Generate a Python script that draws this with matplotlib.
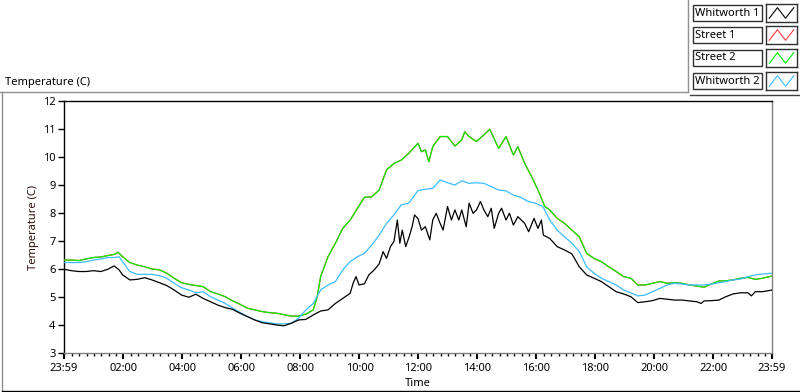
import matplotlib
matplotlib.use("Agg")
import matplotlib.pyplot as plt
from matplotlib.lines import Line2D
from matplotlib.patches import Rectangle
import numpy as np

plt.rcParams['font.family'] = ['Noto Sans', 'DejaVu Sans']

# minutes after 23:59 (start of the day record) and temperatures in C
whit1_t = [0, 15, 30, 45, 60, 75, 89, 102, 112, 119, 134, 149, 164, 179, 194, 209, 224, 239, 254, 268,
           283, 298, 313, 328, 343, 358, 373, 388, 403, 418, 433, 447, 462, 477, 492, 507, 522, 537, 552, 567,
           582, 588, 594, 600, 611, 620, 631, 641, 649, 656, 664, 671, 678, 683, 688, 695, 702, 708, 713, 720,
           727, 735, 744, 750, 757, 765, 771, 780, 788, 795, 803, 809, 818, 824, 832, 839, 847, 854, 862, 869,
           875, 884, 890, 899, 906, 914, 923, 937, 945, 956, 964, 971, 975, 988, 1003, 1018, 1033, 1048, 1063, 1078,
           1093, 1108, 1123, 1138, 1153, 1167, 1182, 1197, 1212, 1227, 1242, 1257, 1272, 1287, 1296, 1302, 1317, 1332, 1346, 1361,
           1376, 1391, 1398, 1406, 1421, 1440]
whit1_v = [5.99, 5.94, 5.91, 5.91, 5.94, 5.91, 5.99, 6.11, 5.97, 5.79, 5.61, 5.63, 5.69, 5.61, 5.51, 5.41, 5.25, 5.07, 4.99, 5.10,
           4.95, 4.83, 4.71, 4.62, 4.56, 4.42, 4.30, 4.18, 4.08, 4.04, 4.00, 3.97, 4.06, 4.18, 4.20, 4.36, 4.50, 4.54, 4.77, 4.95,
           5.13, 5.49, 5.73, 5.43, 5.47, 5.79, 5.97, 6.18, 6.62, 6.38, 6.80, 6.98, 7.75, 6.92, 7.39, 6.80, 7.15, 7.51, 7.93, 7.80,
           7.39, 7.51, 7.04, 7.75, 7.99, 7.63, 7.39, 8.23, 7.75, 8.11, 7.75, 8.11, 7.51, 8.35, 7.99, 8.11, 8.41, 8.11, 7.87, 8.17,
           7.45, 7.99, 8.17, 7.75, 7.99, 7.57, 7.87, 7.63, 7.33, 7.81, 7.45, 7.75, 7.21, 7.09, 6.80, 6.68, 6.54, 6.08, 5.79, 5.67,
           5.55, 5.37, 5.19, 5.11, 5.01, 4.80, 4.83, 4.87, 4.95, 4.92, 4.89, 4.89, 4.86, 4.83, 4.77, 4.86, 4.87, 4.89, 5.01, 5.11,
           5.15, 5.15, 5.04, 5.19, 5.19, 5.25]

street2_t = [0, 15, 30, 45, 60, 75, 89, 102, 110, 119, 134, 149, 164, 179, 194, 209, 224, 239, 254, 268,
             283, 298, 313, 328, 343, 358, 373, 388, 403, 418, 433, 447, 462, 477, 492, 507, 515, 522, 537, 552,
             567, 582, 597, 611, 626, 641, 656, 671, 686, 701, 720, 727, 735, 742, 750, 765, 780, 795, 809, 815,
             824, 839, 854, 866, 876, 884, 899, 914, 923, 937, 951, 964, 978, 988, 1003, 1018, 1033, 1048, 1063, 1078,
             1093, 1108, 1123, 1138, 1153, 1167, 1182, 1197, 1212, 1227, 1242, 1257, 1272, 1287, 1302, 1317, 1332, 1346, 1361, 1376,
             1391, 1406, 1421, 1440]
street2_v = [6.32, 6.32, 6.30, 6.36, 6.41, 6.43, 6.48, 6.52, 6.60, 6.44, 6.23, 6.14, 6.08, 6.00, 5.97, 5.85, 5.67, 5.51, 5.45, 5.41,
             5.37, 5.19, 5.11, 5.01, 4.86, 4.74, 4.60, 4.54, 4.48, 4.44, 4.42, 4.37, 4.32, 4.32, 4.39, 4.54, 5.01, 5.73, 6.44, 6.92,
             7.45, 7.75, 8.17, 8.56, 8.58, 8.82, 9.54, 9.77, 9.89, 10.13, 10.49, 10.19, 10.25, 9.83, 10.37, 10.73, 10.73, 10.39, 10.61, 10.90,
             10.73, 10.55, 10.79, 10.99, 10.61, 10.31, 10.73, 10.07, 10.37, 9.77, 9.30, 8.82, 8.23, 8.11, 7.81, 7.63, 7.39, 7.15, 6.56, 6.38,
             6.26, 6.08, 5.91, 5.73, 5.67, 5.43, 5.43, 5.49, 5.55, 5.49, 5.51, 5.49, 5.43, 5.39, 5.35, 5.47, 5.57, 5.58, 5.61, 5.67,
             5.70, 5.63, 5.67, 5.75]

whit2_t = [0, 15, 30, 45, 60, 75, 89, 102, 112, 119, 134, 149, 164, 179, 194, 209, 224, 239, 254, 268,
           283, 298, 313, 328, 343, 358, 373, 388, 403, 418, 433, 447, 462, 477, 492, 507, 522, 537, 552, 567,
           582, 597, 611, 626, 641, 656, 671, 686, 701, 720, 735, 750, 765, 780, 795, 809, 824, 839, 854, 869,
           884, 899, 914, 929, 944, 959, 974, 988, 1003, 1018, 1033, 1048, 1063, 1078, 1093, 1108, 1123, 1138, 1153, 1167,
           1182, 1197, 1212, 1227, 1242, 1257, 1272, 1287, 1302, 1317, 1332, 1346, 1361, 1376, 1391, 1406, 1421, 1440]
whit2_v = [6.23, 6.23, 6.23, 6.26, 6.32, 6.36, 6.41, 6.41, 6.44, 6.26, 5.91, 5.81, 5.81, 5.81, 5.76, 5.67, 5.49, 5.33, 5.25, 5.15,
           5.19, 5.01, 4.89, 4.77, 4.60, 4.45, 4.30, 4.18, 4.12, 4.08, 4.04, 4.04, 4.06, 4.24, 4.54, 4.77, 5.25, 5.43, 5.55, 5.97,
           6.26, 6.44, 6.56, 6.86, 7.21, 7.63, 7.93, 8.29, 8.35, 8.80, 8.85, 8.88, 9.18, 9.08, 9.00, 9.15, 9.06, 9.08, 9.06, 8.94,
           8.82, 8.79, 8.64, 8.56, 8.41, 8.35, 8.23, 7.75, 7.39, 7.15, 6.92, 6.62, 6.08, 5.85, 5.67, 5.55, 5.43, 5.25, 5.15, 5.04,
           5.07, 5.19, 5.31, 5.43, 5.49, 5.46, 5.43, 5.43, 5.43, 5.46, 5.51, 5.55, 5.61, 5.64, 5.73, 5.79, 5.82, 5.85]

# Street 1 is hidden underneath Street 2 in the original chart
street1_t = street2_t
street1_v = street2_v

series_names = ['Whitworth 1', 'Street 1', 'Street 2', 'Whitworth 2']
series_colors = ['#000000', '#ff3c3c', '#00ee00', '#3cbcff']

xtick_pos = [0, 121, 241, 361, 481, 601, 721, 841, 961, 1081, 1201, 1321, 1440]
xtick_labels = ['23:59', '02:00', '04:00', '06:00', '08:00', '10:00', '12:00',
                '14:00', '16:00', '18:00', '20:00', '22:00', '23:59']
ytick_vals = [3, 4, 5, 6, 7, 8, 9, 10, 11, 12]

W, H = 800, 392
fig = plt.figure(figsize=(W / 100, H / 100), dpi=100)
fig.patch.set_facecolor('white')

ax = fig.add_axes([64 / W, 1 - 353 / H, (772 - 64) / W, (353 - 101) / H])
ax.plot(whit1_t, whit1_v, color=series_colors[0], lw=0.9, zorder=5)
ax.plot(street1_t, street1_v, color=series_colors[1], lw=0.9, zorder=3)
ax.plot(street2_t, street2_v, color=series_colors[2], lw=0.9, zorder=4)
ax.plot(whit2_t, whit2_v, color=series_colors[3], lw=0.9, zorder=4)

ax.set_xlim(0, 1440)
ax.set_ylim(3, 12)
ax.set_yticks(ytick_vals)
ax.set_xticks(xtick_pos)
ax.set_xticklabels(xtick_labels)
ax.set_xticks([1 + 15 * k for k in range(96)], minor=True)
ax.tick_params(axis='both', which='major', direction='out', length=4, width=1,
               labelsize=8, colors='black', pad=2)
ax.tick_params(axis='x', which='minor', direction='out', length=2.5, width=1, colors='black')
ax.tick_params(axis='x', which='major', length=4, width=1.5, pad=3)
ax.spines['left'].set_color('black')
ax.spines['top'].set_color('black')
ax.spines['right'].set_color('#808080')
ax.spines['bottom'].set_color('#808080')
for s in ax.spines.values():
    s.set_linewidth(1)
ax.set_xlabel('Time', fontsize=8, labelpad=3)
ax.set_ylabel('Temperature (C)', fontsize=8, color='#301010', labelpad=3)

# panel title and frame
fig.text(5 / W, 1 - 82 / H, 'Temperature (C)', fontsize=8, va='center', ha='left')
fig.add_artist(Line2D([0, 688 / W], [1 - 92 / H, 1 - 92 / H], color='#909090', lw=1,
                      transform=fig.transFigure))
fig.add_artist(Line2D([688 / W, 688 / W], [1 - 92 / H, 1.0], color='#909090', lw=1,
                      transform=fig.transFigure))
fig.add_artist(Line2D([690 / W, 1.0], [1 - 95 / H, 1 - 95 / H], color='#404040', lw=1,
                      transform=fig.transFigure))
fig.add_artist(Line2D([1.5 / W, 1.5 / W], [1 - 92 / H, 1 - 390 / H], color='#909090', lw=1,
                      transform=fig.transFigure))
fig.add_artist(Line2D([1.5 / W, 1.0], [1 - 390.5 / H, 1 - 390.5 / H], color='black', lw=1,
                      transform=fig.transFigure))

# legend on the top right
row_y = [13, 35, 58, 81]
zig_x = [0, 1, 2, 3]
zig_y = [0, 1, 0, 1]
for name, col, yc in zip(series_names, series_colors, row_y):
    fig.add_artist(Rectangle((693 / W, 1 - (yc + 8) / H), 69 / W, 16 / H, fill=False,
                             edgecolor='#303030', lw=1, transform=fig.transFigure))
    fig.text(695 / W, 1 - yc / H, name, fontsize=8, va='center', ha='left')
    lax = fig.add_axes([766 / W, 1 - (yc + 9) / H, 31 / W, 18 / H])
    lax.plot(zig_x, zig_y, color=col, lw=0.8)
    lax.set_xlim(-0.4, 3.4)
    lax.set_ylim(-0.35, 1.35)
    lax.set_xticks([])
    lax.set_yticks([])
    for s in lax.spines.values():
        s.set_color('#303030')
        s.set_linewidth(1)

fig.savefig('out.png', dpi=100)
